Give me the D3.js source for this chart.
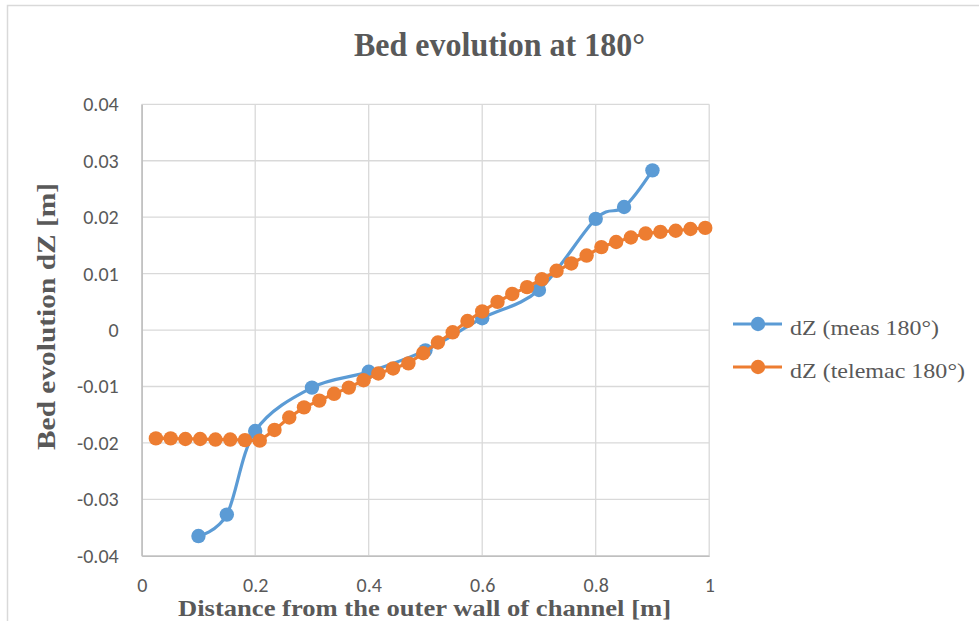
<!DOCTYPE html>
<html>
<head>
<meta charset="utf-8">
<script src="https://cdn.jsdelivr.net/npm/d3@7"></script>
<style>
  html, body { margin: 0; padding: 0; background: #fff; }
  svg { display: block; }
</style>
</head>
<body>
<svg id="chart" width="979" height="621"></svg>
<script>
const measX = [0.1, 0.15, 0.2, 0.3, 0.4, 0.5, 0.6, 0.7, 0.8, 0.85, 0.9];
const measY = [-0.0365, -0.0327, -0.0179, -0.0102, -0.0074, -0.0036, 0.0021, 0.0071, 0.0197, 0.0218, 0.0283];

const telX = [0.025, 0.051, 0.077, 0.103, 0.130, 0.156, 0.182, 0.208, 0.234, 0.260,
              0.286, 0.313, 0.339, 0.365, 0.391, 0.417, 0.443, 0.470, 0.496, 0.522,
              0.548, 0.574, 0.600, 0.627, 0.653, 0.679, 0.705, 0.731, 0.757, 0.784,
              0.810, 0.836, 0.862, 0.888, 0.914, 0.941, 0.967, 0.993];
const telY = [-0.0192, -0.0192, -0.0193, -0.0193, -0.0194, -0.0194, -0.0195, -0.0196, -0.0177, -0.0155,
              -0.0137, -0.0125, -0.0113, -0.0102, -0.0089, -0.0077, -0.0068, -0.0059, -0.0041, -0.0022,
              -0.0004, 0.0016, 0.0033, 0.0050, 0.0064, 0.0076, 0.0090, 0.0105, 0.0118, 0.0132,
              0.0147, 0.0156, 0.0164, 0.0171, 0.0174, 0.0176, 0.0179, 0.0181];

const xTicks = [0, 0.2, 0.4, 0.6, 0.8, 1];
const yTicks = [-0.04, -0.03, -0.02, -0.01, 0, 0.01, 0.02, 0.03, 0.04];
const xTickLabels = ["0", "0.2", "0.4", "0.6", "0.8", "1"];
const yTickLabels = ["-0.04", "-0.03", "-0.02", "-0.01", "0", "0.01", "0.02", "0.03", "0.04"];
const seriesNames = ["dZ (meas 180°)", "dZ (telemac 180°)"];
const seriesColors = ["#5b9bd5", "#ed7d31"];
const titleText = "Bed evolution at 180°";
const xLabel = "Distance from the outer wall of channel [m]";
const yLabel = "Bed evolution dZ [m]";

const svg = d3.select("#chart");
const pLeft = 141.7, pRight = 709.2, pTop = 104.3, pBottom = 555.8;
const serif = "'Liberation Serif', 'Times New Roman', serif";
const textCol = "#595959";

// chart border
svg.append("rect").attr("x", 7.5).attr("y", 5.5).attr("width", 1000).attr("height", 700)
  .attr("fill", "none").attr("stroke", "#d9d9d9").attr("stroke-width", 1.5);

const x = d3.scaleLinear().domain([0, 1]).range([pLeft, pRight]);
const y = d3.scaleLinear().domain([-0.04, 0.04]).range([pBottom, pTop]);

// gridlines
const grid = svg.append("g");
grid.selectAll("line.h").data(yTicks).join("line").attr("class", "h")
  .attr("x1", pLeft).attr("x2", pRight)
  .attr("y1", d => y(d)).attr("y2", d => y(d))
  .attr("stroke", "#d9d9d9").attr("stroke-width", 1.3);
grid.selectAll("line.v").data(xTicks).join("line").attr("class", "v")
  .attr("y1", pTop).attr("y2", pBottom)
  .attr("x1", d => x(d)).attr("x2", d => x(d))
  .attr("stroke", "#d9d9d9").attr("stroke-width", 1.3);

// axes
const xAxis = svg.append("g").attr("transform", `translate(0,${pBottom})`)
  .call(d3.axisBottom(x).tickValues(xTicks).tickSize(0).tickPadding(22)
    .tickFormat((d, i) => xTickLabels[i]));
const yAxis = svg.append("g").attr("transform", `translate(${pLeft},0)`)
  .call(d3.axisLeft(y).tickValues(yTicks).tickSize(0).tickPadding(23)
    .tickFormat((d, i) => yTickLabels[i]));
[xAxis, yAxis].forEach(a => {
  a.select(".domain").attr("stroke", "#bfbfbf").attr("stroke-width", 1.5);
  a.selectAll("text").attr("fill", textCol)
    .attr("font-family", "Carlito, 'Liberation Sans', Arial, sans-serif").attr("font-size", "20px");
});

// title
svg.append("text").attr("x", 354).attr("y", 56)
  .attr("textLength", 291).attr("lengthAdjust", "spacingAndGlyphs")
  .attr("font-family", serif).attr("font-weight", "bold")
  .attr("font-size", "33px").attr("fill", textCol).text(titleText);

// axis labels
svg.append("text").attr("x", 178).attr("y", 616)
  .attr("textLength", 493).attr("lengthAdjust", "spacingAndGlyphs")
  .attr("font-family", serif).attr("font-weight", "bold")
  .attr("font-size", "24px").attr("fill", textCol).text(xLabel);
svg.append("text").attr("transform", "translate(55,450) rotate(-90)")
  .attr("textLength", 267).attr("lengthAdjust", "spacingAndGlyphs")
  .attr("font-family", serif).attr("font-weight", "bold")
  .attr("font-size", "26px").attr("fill", textCol).text(yLabel);

// series
const meas = measX.map((d, i) => [d, measY[i]]);
const tel = telX.map((d, i) => [d, telY[i]]);

const smooth = d3.line().x(d => x(d[0])).y(d => y(d[1])).curve(d3.curveCardinal.tension(0));
const straight = d3.line().x(d => x(d[0])).y(d => y(d[1]));

svg.append("path").datum(meas).attr("d", smooth).attr("fill", "none")
  .attr("stroke", seriesColors[0]).attr("stroke-width", 3.2).attr("stroke-linejoin", "round");
svg.append("g").selectAll("circle").data(meas).join("circle")
  .attr("cx", d => x(d[0])).attr("cy", d => y(d[1])).attr("r", 7.2).attr("fill", seriesColors[0]);

svg.append("path").datum(tel).attr("d", straight).attr("fill", "none")
  .attr("stroke", seriesColors[1]).attr("stroke-width", 3.2);
svg.append("g").selectAll("circle").data(tel).join("circle")
  .attr("cx", d => x(d[0])).attr("cy", d => y(d[1])).attr("r", 7.2).attr("fill", seriesColors[1]);

// legend
const legY = [324, 367];
const legLen = [149, 175];
const leg = svg.append("g");
seriesNames.forEach((name, i) => {
  leg.append("line").attr("x1", 733).attr("x2", 782).attr("y1", legY[i]).attr("y2", legY[i])
    .attr("stroke", seriesColors[i]).attr("stroke-width", 3.2);
  leg.append("circle").attr("cx", 758).attr("cy", legY[i]).attr("r", 7.2).attr("fill", seriesColors[i]);
  leg.append("text").attr("x", 790).attr("y", legY[i] + 11)
    .attr("textLength", legLen[i]).attr("lengthAdjust", "spacingAndGlyphs")
    .attr("font-family", serif)
    .attr("font-size", "22px").attr("fill", textCol).text(name);
});
</script>
</body>
</html>
